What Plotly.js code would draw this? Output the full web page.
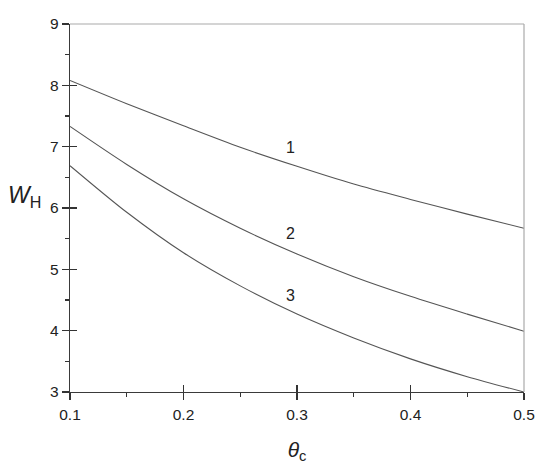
<!DOCTYPE html>
<html><head><meta charset="utf-8">
<script src="https://cdn.plot.ly/plotly-3.0.1.min.js"></script>
<style>html,body{margin:0;padding:0;background:#fff}</style>
</head><body>
<div id="chart" style="width:550px;height:470px"></div>
<script>
const thetaC = [0.1, 0.15, 0.2, 0.25, 0.3, 0.35, 0.4, 0.45, 0.5];
const curve1 = [8.08, 7.70, 7.34, 6.99, 6.68, 6.39, 6.14, 5.90, 5.67];
const curve2 = [7.33, 6.71, 6.15, 5.67, 5.25, 4.88, 4.56, 4.27, 3.99];
const curve3 = [6.69, 5.93, 5.27, 4.73, 4.27, 3.88, 3.54, 3.25, 3.00];
const curveLabels = ["1", "2", "3"];
const labelX = [0.294, 0.294, 0.294];
const labelY = [6.98, 5.59, 4.58];
const xTicks = [0.1, 0.2, 0.3, 0.4, 0.5];
const yTicks = [3, 4, 5, 6, 7, 8, 9];

const lineStyle = {color: '#555', width: 1.1, shape: 'spline', smoothing: 0.8};
const traces = [curve1, curve2, curve3].map(v => ({
  x: thetaC, y: v, mode: 'lines', line: lineStyle, hoverinfo: 'skip', showlegend: false
}));
traces.push({x: [], y: [], xaxis: 'x2', yaxis: 'y2', showlegend: false});

const fam = 'Liberation Sans, Arial, sans-serif';
const font = {family: fam, size: 15.5, color: '#222'};
const axBase = {
  showgrid: false, zeroline: false, showline: true,
  linecolor: '#3a3a3a', linewidth: 1.3, tickcolor: '#333', tickwidth: 1.3, ticklen: 7,
  tickfont: font
};
const xCommon = Object.assign({}, axBase, {range: [0.1, 0.5], tickvals: xTicks,
  ticktext: xTicks.map(v => v.toFixed(1)),
  minor: {dtick: 0.05, tick0: 0.1, ticklen: 4, tickcolor: '#333', tickwidth: 1.1, showgrid: false}});
const yCommon = Object.assign({}, axBase, {range: [3, 9], tickvals: yTicks,
  ticktext: yTicks.map(String),
  minor: {dtick: 0.5, tick0: 3, ticklen: 4, tickcolor: '#333', tickwidth: 1.1, showgrid: false}});

const layout = {
  width: 550, height: 470,
  margin: {l: 70, r: 26, t: 24, b: 78},
  paper_bgcolor: '#fff', plot_bgcolor: '#fff',
  font: font,
  xaxis: Object.assign({}, xCommon, {ticks: 'outside', anchor: 'y', ticklabelstandoff: 1,
    title: {text: '<i>θ</i><sub>c</sub>', font: {family: fam, size: 21, color: '#222'}, standoff: 20}}),
  yaxis: Object.assign({}, yCommon, {ticks: 'outside', anchor: 'x', ticklabelstandoff: 0}),
  xaxis2: Object.assign({}, xCommon, {ticks: 'inside', overlaying: 'x', anchor: 'y2', side: 'bottom', showticklabels: false}),
  yaxis2: Object.assign({}, yCommon, {ticks: 'inside', overlaying: 'y', anchor: 'x2', side: 'left', showticklabels: false}),
  shapes: [
    {type: 'line', xref: 'paper', yref: 'paper', x0: 0, x1: 1, y0: 1, y1: 1, line: {color: '#aaa', width: 1.2}},
    {type: 'line', xref: 'paper', yref: 'paper', x0: 1, x1: 1, y0: 0, y1: 1, line: {color: '#aaa', width: 1.2}}
  ],
  annotations: curveLabels.map((t, i) => ({
    x: labelX[i], y: labelY[i], xref: 'x', yref: 'y', text: t, showarrow: false,
    font: {family: fam, size: 16, color: '#222'}
  })).concat([{
    xref: 'paper', yref: 'paper', x: -0.1, y: 0.53, xanchor: 'center', yanchor: 'middle',
    text: '<i>W</i><sub>H</sub>', showarrow: false,
    font: {family: fam, size: 23, color: '#222'}
  }])
};
Plotly.newPlot('chart', traces, layout, {displayModeBar: false, staticPlot: true});
</script>
</body></html>
